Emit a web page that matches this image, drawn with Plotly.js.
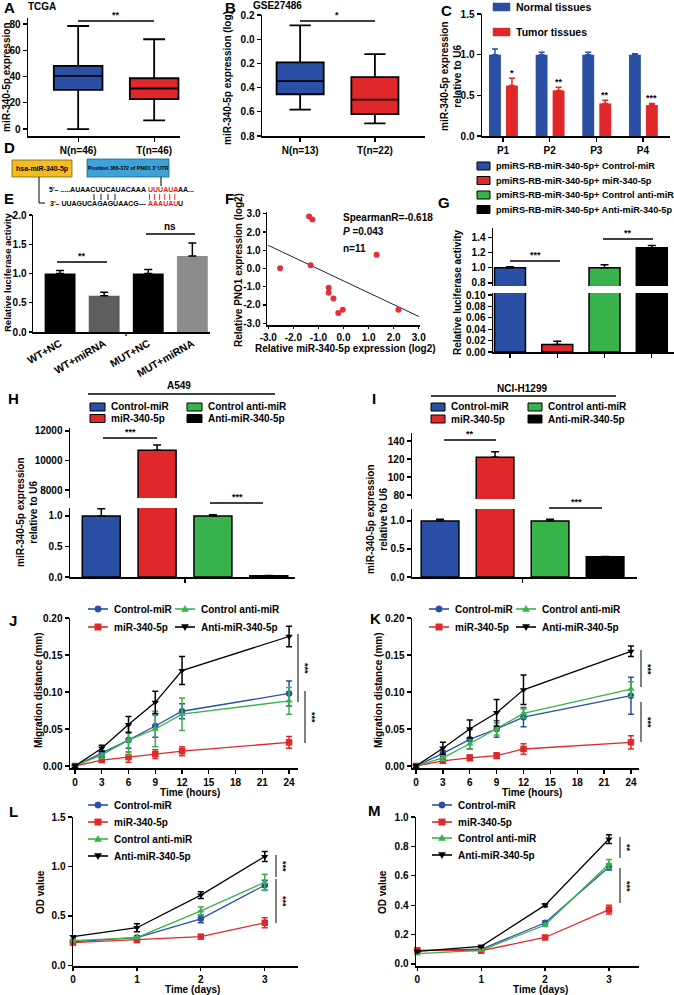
<!DOCTYPE html>
<html><head><meta charset="utf-8">
<script src="https://cdn.plot.ly/plotly-3.0.1.min.js"></script>
<style>html,body{margin:0;padding:0;background:#fff;}#chart{width:674px;height:995px;}</style>
</head><body><div id="chart"></div>
<script>
// ================= DATA =================
const tcgaCats = ['N(n=46)', 'T(n=46)'];
const tcgaLower = [0, 6.6];
const tcgaQ1 = [29.9, 22.8];
const tcgaMedian = [40.5, 30.9];
const tcgaQ3 = [48.1, 38.7];
const tcgaUpper = [78.5, 68.4];

const geoCats = ['N(n=13)', 'T(n=22)'];
const geoLower = [-0.114, 0.123];
const geoQ1 = [0.192, 0.314];
const geoMedian = [0.347, 0.499];
const geoQ3 = [0.455, 0.618];
const geoUpper = [0.582, 0.695];
const geoTickVals = [-0.2, 0, 0.2, 0.4, 0.6, 0.8];
const geoTickText = ['0.2', '0.0', '0.2', '0.4', '0.6', '0.8'];

const pairCats = ['P1', 'P2', 'P3', 'P4'];
const tissueNames = ['Normal tissues', 'Tumor tissues'];
const normalVals = [1.0, 1.0, 1.0, 1.0];
const normalErr = [0.07, 0.03, 0.03, 0.01];
const tumorVals = [0.62, 0.56, 0.40, 0.38];
const tumorErr = [0.09, 0.04, 0.04, 0.02];
const tumorSig = ['*', '**', '**', '***'];

const lucCats = ['WT+NC', 'WT+miRNA', 'MUT+NC', 'MUT+miRNA'];
const lucVals = [1.0, 0.62, 1.0, 1.30];
const lucErr = [0.05, 0.06, 0.07, 0.22];

const corrX = [-1.37, -1.24, -2.53, -1.31, 1.32, -0.59, -0.59, -0.40, -0.21, -0.03, 2.19];
const corrY = [2.85, 2.69, 0.02, 0.18, 0.75, -1.05, -1.33, -1.64, -2.44, -2.27, -2.27];
const fitX = [-3.0, 3.0];
const fitY = [1.27, -2.63];
const corrStats = ['SpearmanR=-0.618', '<i>P</i> =0.043', 'n=11'];
const corrTicks = [-3, -2, -1, 0, 1, 2, 3];
const corrTickText = ['-3.0', '-2.0', '-1.0', '0.0', '1.0', '2.0', '3.0'];

const groupNames = ['Control-miR', 'miR-340-5p', 'Control anti-miR', 'Anti-miR-340-5p'];
const reporterPrefix = 'pmiRS-RB-miR-340-5p+ ';
const reporterVals = [1.0, 0.013, 1.0, 1.26];
const reporterErr = [0.012, 0.006, 0.04, 0.03];

const a549Vals = [1.0, 10700, 1.0, 0.02];
const a549Err = [0.12, 350, 0.02, 0.004];
const h1299Vals = [1.0, 122, 1.0, 0.36];
const h1299Err = [0.03, 6, 0.03, 0.005];

const hours = [0, 3, 6, 9, 12, 24];
const jCtrl = [0, 0.017, 0.035, 0.054, 0.074, 0.098];
const jCtrlErr = [0.001, 0.004, 0.011, 0.015, 0.010, 0.017];
const jMir = [0, 0.008, 0.012, 0.016, 0.020, 0.032];
const jMirErr = [0.001, 0.003, 0.007, 0.006, 0.006, 0.008];
const jAnti = [0, 0.015, 0.035, 0.050, 0.070, 0.088];
const jAntiErr = [0.001, 0.005, 0.020, 0.024, 0.022, 0.018];
const jInh = [0, 0.024, 0.056, 0.086, 0.129, 0.175];
const jInhErr = [0.002, 0.004, 0.011, 0.015, 0.019, 0.014];

const kCtrl = [0, 0.017, 0.036, 0.050, 0.066, 0.095];
const kCtrlErr = [0.001, 0.004, 0.013, 0.011, 0.013, 0.025];
const kMir = [0, 0.007, 0.011, 0.014, 0.023, 0.032];
const kMirErr = [0.001, 0.003, 0.004, 0.004, 0.007, 0.009];
const kAnti = [0, 0.011, 0.030, 0.050, 0.071, 0.104];
const kAntiErr = [0.001, 0.004, 0.007, 0.008, 0.006, 0.010];
const kInh = [0, 0.024, 0.050, 0.072, 0.103, 0.155];
const kInhErr = [0.002, 0.008, 0.012, 0.018, 0.020, 0.007];

const days = [0, 1, 2, 3];
const lCtrl = [0.24, 0.28, 0.47, 0.81];
const lCtrlErr = [0.01, 0.02, 0.04, 0.05];
const lMir = [0.23, 0.26, 0.29, 0.43];
const lMirErr = [0.01, 0.03, 0.02, 0.05];
const lAnti = [0.25, 0.28, 0.55, 0.84];
const lAntiErr = [0.01, 0.01, 0.04, 0.08];
const lInh = [0.29, 0.38, 0.71, 1.10];
const lInhErr = [0.01, 0.04, 0.035, 0.05];

const mCtrl = [0.09, 0.10, 0.28, 0.66];
const mCtrlErr = [0.005, 0.005, 0.01, 0.02];
const mMir = [0.093, 0.09, 0.18, 0.37];
const mMirErr = [0.005, 0.005, 0.01, 0.03];
const mAnti = [0.07, 0.093, 0.265, 0.68];
const mAntiErr = [0.005, 0.005, 0.01, 0.03];
const mInh = [0.086, 0.12, 0.40, 0.85];
const mInhErr = [0.005, 0.005, 0.01, 0.03];

// ================= STYLE / HELPERS =================
const W = 674, H = 995;
const FONT = 'Liberation Sans, Arial, Helvetica, sans-serif';
const BLUE = '#2B4FA5', RED = '#E0282A', GREEN = '#38B24A', BLACK = '#000000';
const GCOL = [BLUE, RED, GREEN, BLACK];
const GSYM = ['circle', 'square', 'triangle-up', 'triangle-down'];
const fx = p => p / W, fy = p => 1 - p / H;
const xd = (a, b) => [a / W, b / W];
const yd = (t, b) => [1 - b / H, 1 - t / H];
const idx = a => a.map((_, i) => i);
const zeros = a => a.map(() => 0);

function axis(extra) {
  return Object.assign({
    showgrid: false, zeroline: false, showline: true, linecolor: '#000', linewidth: 1.5,
    ticks: 'outside', ticklen: 4, tickwidth: 1.3, tickcolor: '#000',
    tickfont: {family: FONT, size: 10, color: '#000', weight: 'bold'},
    fixedrange: true, automargin: false
  }, extra);
}

const shapes = [], annotations = [];
function txt(x, y, text, size, xanchor, extra) {
  annotations.push(Object.assign({
    xref: 'paper', yref: 'paper', x: fx(x), y: fy(y), text: text, showarrow: false,
    xanchor: xanchor || 'left', yanchor: 'middle', borderpad: 0,
    font: {family: FONT, size: size || 10, color: '#000', weight: 'bold'}
  }, extra || {}));
}
function seg(x0, y0, x1, y1, color, w) {
  shapes.push({type: 'line', xref: 'paper', yref: 'paper', x0: fx(x0), y0: fy(y0), x1: fx(x1), y1: fy(y1),
    line: {color: color || '#000', width: w || 1.3}});
}
function box(x0, y0, x1, y1, fill, lc, lw) {
  shapes.push({type: 'rect', xref: 'paper', yref: 'paper', x0: fx(x0), y0: fy(y0), x1: fx(x1), y1: fy(y1),
    fillcolor: fill, line: {color: lc || fill, width: lw === undefined ? 1 : lw}});
}
function sym(cx, cy, s, color, r) {
  r = r || 3.2;
  if (s === 'circle') {
    shapes.push({type: 'circle', xref: 'paper', yref: 'paper', x0: fx(cx - r), x1: fx(cx + r), y0: fy(cy - r), y1: fy(cy + r), fillcolor: color, line: {color: color, width: 0.5}});
  } else if (s === 'square') {
    box(cx - r, cy - r, cx + r, cy + r, color, color, 0.5);
  } else {
    const up = s === 'triangle-up';
    const p = up ? [[cx, cy - r * 1.1], [cx + r * 1.1, cy + r * 0.8], [cx - r * 1.1, cy + r * 0.8]]
                 : [[cx, cy + r * 1.1], [cx + r * 1.1, cy - r * 0.8], [cx - r * 1.1, cy - r * 0.8]];
    const path = 'M' + p.map(q => fx(q[0]) + ',' + fy(q[1])).join('L') + 'Z';
    shapes.push({type: 'path', xref: 'paper', yref: 'paper', path: path, fillcolor: color, line: {color: color, width: 0.5}});
  }
}
function lineLegend(x, y, i, label) {
  seg(x, y, x + 20, y, GCOL[i], 1.6);
  sym(x + 10, y, GSYM[i], GCOL[i], 3.2);
  txt(x + 25, y, label, 10);
}
function barLegend(x, y, w, color, label, outline, size) {
  box(x, y - 4, x + w, y + 4, color, outline ? '#000' : color, outline ? 1 : 0.5);
  txt(x + w + 5, y, label, size || 10);
}
function star(x, y, s, vertical) {
  txt(x, y, s, 9, 'center', vertical ? {textangle: 90} : {});
}

// ================= TRACES =================
const traces = [];

// A: TCGA boxes
[BLUE, RED].forEach((c, i) => traces.push({
  type: 'box', x: [i], q1: [tcgaQ1[i]], median: [tcgaMedian[i]], q3: [tcgaQ3[i]],
  lowerfence: [tcgaLower[i]], upperfence: [tcgaUpper[i]], width: 0.64, whiskerwidth: 0.45,
  fillcolor: c, line: {color: '#000', width: 1.8}, boxpoints: false, xaxis: 'x', yaxis: 'y', hoverinfo: 'skip'
}));
// B: GEO boxes
[BLUE, RED].forEach((c, i) => traces.push({
  type: 'box', x: [i], q1: [geoQ1[i]], median: [geoMedian[i]], q3: [geoQ3[i]],
  lowerfence: [geoLower[i]], upperfence: [geoUpper[i]], width: 0.63, whiskerwidth: 0.45,
  fillcolor: c, line: {color: '#000', width: 1.8}, boxpoints: false, xaxis: 'x2', yaxis: 'y2', hoverinfo: 'skip'
}));
// C: paired tissues
traces.push({type: 'bar', x: idx(pairCats), y: normalVals, offset: -0.30, width: 0.255,
  marker: {color: BLUE, line: {width: 0}},
  error_y: {type: 'data', array: normalErr, arrayminus: zeros(normalErr), symmetric: false, color: BLUE, thickness: 1.5, width: 3},
  xaxis: 'x3', yaxis: 'y3', hoverinfo: 'skip'});
traces.push({type: 'bar', x: idx(pairCats), y: tumorVals, offset: 0.064, width: 0.255,
  marker: {color: RED, line: {width: 0}},
  error_y: {type: 'data', array: tumorErr, arrayminus: zeros(tumorErr), symmetric: false, color: RED, thickness: 1.5, width: 3},
  xaxis: 'x3', yaxis: 'y3', hoverinfo: 'skip'});
// E: luciferase WT/MUT
traces.push({type: 'bar', x: idx(lucCats), y: lucVals, width: 0.7,
  marker: {color: ['#000000', '#5e5e5e', '#000000', '#8c8c8c'], line: {width: 0}},
  error_y: {type: 'data', array: lucErr, arrayminus: zeros(lucErr), symmetric: false, color: '#000', thickness: 1.5, width: 4},
  xaxis: 'x4', yaxis: 'y4', hoverinfo: 'skip'});
// F: correlation
traces.push({type: 'scatter', mode: 'lines', x: fitX, y: fitY, line: {color: '#222', width: 1},
  xaxis: 'x5', yaxis: 'y5', hoverinfo: 'skip'});
traces.push({type: 'scatter', mode: 'markers', x: corrX, y: corrY, marker: {color: '#E0303A', size: 6},
  xaxis: 'x5', yaxis: 'y5', hoverinfo: 'skip', cliponaxis: false});
// broken-axis bar helper
function brokenBars(vals, errs, xa, yLow, yHigh, width) {
  [yLow, yHigh].forEach(ya => traces.push({type: 'bar', x: idx(vals), y: vals, width: width,
    marker: {color: GCOL, line: {color: '#000', width: 1.5}},
    error_y: {type: 'data', array: errs, arrayminus: zeros(errs), symmetric: false, color: '#000', thickness: 1.5, width: 4},
    xaxis: xa, yaxis: ya, hoverinfo: 'skip'}));
}
brokenBars(reporterVals, reporterErr, 'x6', 'y6', 'y7', 0.655);   // G
brokenBars(a549Vals, a549Err, 'x7', 'y8', 'y9', 0.68);            // H
brokenBars(h1299Vals, h1299Err, 'x8', 'y10', 'y11', 0.685);       // I
// line panels
function lineSet(xv, series, errs, xa, ya) {
  series.forEach((s, i) => traces.push({type: 'scatter', mode: 'lines+markers', x: xv, y: s,
    line: {color: GCOL[i], width: 1.3}, marker: {symbol: GSYM[i], size: 6.5, color: GCOL[i]},
    error_y: {type: 'data', array: errs[i], color: GCOL[i], thickness: 1.5, width: 3},
    xaxis: xa, yaxis: ya, cliponaxis: false, hoverinfo: 'skip'}));
}
lineSet(hours, [jCtrl, jMir, jAnti, jInh], [jCtrlErr, jMirErr, jAntiErr, jInhErr], 'x9', 'y12');
lineSet(hours, [kCtrl, kMir, kAnti, kInh], [kCtrlErr, kMirErr, kAntiErr, kInhErr], 'x10', 'y13');
lineSet(days, [lCtrl, lMir, lAnti, lInh], [lCtrlErr, lMirErr, lAntiErr, lInhErr], 'x11', 'y14');
lineSet(days, [mCtrl, mMir, mAnti, mInh], [mCtrlErr, mMirErr, mAntiErr, mInhErr], 'x12', 'y15');

// C significance stars from data
tumorSig.forEach((s, i) => annotations.push({xref: 'x3', yref: 'y3', x: i + 0.19, y: tumorVals[i] + tumorErr[i],
  text: s, showarrow: false, yanchor: 'bottom', xanchor: 'center', yshift: -1, borderpad: 0,
  font: {family: FONT, size: 9, color: '#000', weight: 'bold'}}));

// ================= ANNOTATIONS / DECOR =================
[['A', 3, 8], ['B', 224, 8], ['C', 440, 10], ['D', 3, 148], ['E', 3, 198], ['F', 224, 198], ['G', 437, 202],
 ['H', 7, 398], ['I', 371, 398], ['J', 8, 620], ['K', 369, 618], ['L', 8, 811], ['M', 367, 810]]
  .forEach(l => txt(l[1], l[2], l[0], 15));
txt(27, 7, 'TCGA', 10);
txt(252, 5, 'GSE27486', 10);
seg(78, 21, 154, 21); star(116, 15, '**');
seg(300, 21, 375, 21); star(337, 15, '*');
const vt = {textangle: -90};
txt(6, 77, 'miR-340-5p expression', 10, 'center', vt);
txt(228, 78, 'miR-340-5p expression (log)', 10, 'center', vt);
txt(451, 76, 'miR-340-5p expression<br>relative to U6', 10, 'center', vt);
txt(7, 272, 'Relative luciferase activity', 9.5, 'center', vt);
txt(238, 270, 'Relative PNO1 expression (log2)', 10, 'center', vt);
txt(345, 348, 'Relative miR-340-5p expression (log2)', 10, 'center');
txt(457, 292, 'Relative luciferase activity', 10, 'center', vt);
txt(27, 512, 'miR-340-5p expression<br>relative to U6', 10, 'center', vt);
txt(377, 519, 'miR-340-5p expression<br>relative to U6', 10, 'center', vt);
txt(38, 690, 'Migration distance (mm)', 10, 'center', vt);
txt(378, 690, 'Migration distance (mm)', 10, 'center', vt);
txt(190, 792, 'Time (hours)', 10, 'center');
txt(532, 792, 'Time (hours)', 10, 'center');
txt(40, 892, 'OD value', 10, 'center', vt);
txt(382, 892, 'OD value', 10, 'center', vt);
txt(192, 989, 'Time (days)', 10, 'center');
txt(540, 989, 'Time (days)', 10, 'center');

// C legend
barLegend(493, 7, 17, BLUE, tissueNames[0], false, 10.5);
barLegend(493, 32, 17, RED, tissueNames[1], false, 10.5);

// D diagram
box(12, 160, 72, 177, '#F2BC22', '#7a6418', 0.8);
txt(42, 168.5, 'hsa-miR-340-5p', 7, 'center');
box(87, 159, 169, 177, '#3EA2DA', '#1d5f87', 0.8);
txt(128, 168, "Position 366-372 of PNO1 3' UTR", 5.2, 'center');
seg(39, 177, 39, 203, '#000', 1);
seg(39, 203, 45, 203, '#000', 1);
seg(161, 177, 161, 186, '#000', 1);
const REDTXT = '#E0201B';
txt(147, 190, "5'– .....AUAACUUCAUACAAA", 7, 'right');
txt(146.5, 190, 'UUUAUA', 7, 'left', {font: {family: FONT, size: 7, color: REDTXT, weight: 'bold'}});
txt(176.5, 190, 'AA...', 7, 'left');
txt(147, 203.5, "3'– UUAGUCAGAGUAACG---", 7, 'right');
txt(146.5, 203.5, 'AAAUAU', 7, 'left', {font: {family: FONT, size: 7, color: REDTXT, weight: 'bold'}});
txt(176.5, 203.5, 'U', 7, 'left');
[94, 101, 108, 115].forEach(x => seg(x, 194, x, 200, '#000', 0.9));
[149.5, 154.6, 159.6, 164.7, 169.7, 174.8].forEach(x => seg(x, 194, x, 200, REDTXT, 0.9));

// E significance + center tick
seg(57, 262, 107, 262); star(82, 256, '**');
seg(146, 234, 195, 234); txt(170, 226, 'ns', 10, 'center');
seg(126, 332, 126, 336, '#000', 1.3);

// F stats
txt(342, 217, corrStats[0], 10);
txt(342, 232, corrStats[1], 10);
txt(342, 248, corrStats[2], 10);

// G legend + significance
[166, 180.5, 195, 209.5].forEach((y, i) => barLegend(477, y, 13, GCOL[i], reporterPrefix + groupNames[i], true, 9.2));
seg(510, 261, 560, 261); star(535, 255, '***');
seg(603, 239, 653, 239); star(628, 233, '**');

// H
txt(179, 385, 'A549', 10, 'center');
seg(88, 394, 275, 394, '#000', 1.3);
barLegend(90, 407, 15, BLUE, groupNames[0], true);
barLegend(90, 418.5, 15, RED, groupNames[1], true);
barLegend(187, 407, 15, GREEN, groupNames[2], true);
barLegend(187, 418.5, 15, BLACK, groupNames[3], true);
seg(103, 438, 157, 438); star(130, 432, '***');
seg(210, 503, 263, 503); star(237, 497, '***');

// I
txt(522, 388, 'NCI-H1299', 10, 'center');
seg(431, 396, 616, 396, '#000', 1.3);
barLegend(431, 407, 14, BLUE, groupNames[0], true);
barLegend(431, 419, 14, RED, groupNames[1], true);
barLegend(528, 407, 14, GREEN, groupNames[2], true);
barLegend(528, 419, 14, BLACK, groupNames[3], true);
seg(444, 440, 496, 440); star(470, 434, '**');
seg(549, 508, 602, 508); star(576, 502, '***');

// J/K legends + sig
[[88, 609, 0], [88, 627, 1], [175, 609, 2], [175, 627, 3]].forEach(a => lineLegend(a[0], a[1], a[2], groupNames[a[2]]));
[[429, 609, 0], [429, 627, 1], [516, 609, 2], [516, 627, 3]].forEach(a => lineLegend(a[0], a[1], a[2], groupNames[a[2]]));
seg(298, 634, 298, 702, '#000', 1); star(305, 668, '***', true);
seg(305, 691, 305, 743, '#000', 1); star(312, 717, '***', true);
seg(641, 650, 641, 687, '#000', 1); star(648, 669, '***', true);
seg(641, 702, 641, 742, '#000', 1); star(648, 722, '***', true);

// L/M legends + sig
[805, 822, 839, 856].forEach((y, i) => lineLegend(88, y, i, groupNames[i]));
[805, 822, 838, 855].forEach((y, i) => lineLegend(432, y, i, groupNames[i]));
seg(276, 855, 276, 877, '#000', 1); star(283, 866, '***', true);
seg(276, 879, 276, 923, '#000', 1); star(283, 901, '***', true);
seg(620, 837, 620, 858, '#000', 1); star(627, 848, '**', true);
seg(620, 868, 620, 903, '#000', 1); star(627, 886, '***', true);

// ================= LAYOUT =================
const layout = {
  width: W, height: H, margin: {l: 0, r: 0, t: 0, b: 0, pad: 0},
  paper_bgcolor: '#fff', plot_bgcolor: 'rgba(0,0,0,0)', showlegend: false, barmode: 'overlay',
  font: {family: FONT, color: '#000'},
  xaxis: axis({domain: xd(28, 180), range: [-0.66, 1.34], anchor: 'y', tickvals: [0, 1], ticktext: tcgaCats}),
  yaxis: axis({domain: yd(18, 136), range: [-5.3, 84.6], anchor: 'x', tickvals: [0, 20, 40, 60, 80]}),
  xaxis2: axis({domain: xd(262, 425), range: [-0.51, 1.67], anchor: 'y2', tickvals: [0, 1], ticktext: geoCats}),
  yaxis2: axis({domain: yd(15, 136), range: [0.8, -0.2], anchor: 'x2', tickvals: geoTickVals, ticktext: geoTickText}),
  xaxis3: axis({domain: xd(482, 670), range: [-0.45, 3.58], anchor: 'y3', tickvals: idx(pairCats), ticktext: pairCats}),
  yaxis3: axis({domain: yd(14, 136), range: [0, 1.5], anchor: 'x3', tickvals: [0, 0.5, 1, 1.5], tickformat: '.1f'}),
  xaxis4: axis({domain: xd(33, 210), range: [-0.614, 3.4], anchor: 'y4', tickvals: idx(lucCats), ticktext: lucCats, tickangle: -30, ticks: '', tickfont: {family: FONT, size: 10.5, color: '#000', weight: 'bold'}}),
  yaxis4: axis({domain: yd(215, 332), range: [0, 2.0], anchor: 'x4', tickvals: [0, 0.5, 1, 1.5, 2], tickformat: '.1f', ticklen: 3}),
  xaxis5: axis({domain: xd(267, 420), range: [-3.05, 3.05], anchor: 'y5', tickvals: corrTicks, ticktext: corrTickText, ticklen: 2}),
  yaxis5: axis({domain: yd(212, 325), range: [-3.1, 3.1], anchor: 'x5', tickvals: corrTicks, ticktext: corrTickText, ticklen: 3}),
  xaxis6: axis({domain: xd(493, 674), range: [-0.36, 3.47], anchor: 'y6', tickvals: [0, 1, 2, 3], showticklabels: false}),
  yaxis6: axis({domain: yd(293, 352), range: [0, 0.1035], anchor: 'x6', tickvals: [0, 0.02, 0.04, 0.06, 0.08, 0.1], tickformat: '.2f'}),
  yaxis7: axis({domain: yd(228, 286), range: [0.76, 1.52], anchor: 'x6', tickvals: [0.8, 1.0, 1.2, 1.4], tickformat: '.1f'}),
  xaxis7: axis({domain: xd(70, 295), range: [-0.56, 3.47], anchor: 'y8', tickvals: [1.5], showticklabels: false}),
  yaxis8: axis({domain: yd(508, 577), range: [0, 1.131], anchor: 'x7', tickvals: [0, 0.5, 1.0], tickformat: '.1f'}),
  yaxis9: axis({domain: yd(428, 498), range: [7458, 12203], anchor: 'x7', tickvals: [8000, 10000, 12000], tickformat: 'd'}),
  xaxis8: axis({domain: xd(412, 637), range: [-0.51, 3.58], anchor: 'y10', tickvals: [1.5], showticklabels: false}),
  yaxis10: axis({domain: yd(509, 577), range: [0, 1.214], anchor: 'x8', tickvals: [0, 0.5, 1.0], tickformat: '.1f'}),
  yaxis11: axis({domain: yd(433, 499), range: [75.6, 148.9], anchor: 'x8', tickvals: [80, 100, 120, 140]}),
  xaxis9: axis({domain: xd(70, 298), range: [-0.56, 25], anchor: 'y12', tickvals: [0, 3, 6, 9, 12, 15, 18, 21, 24]}),
  yaxis12: axis({domain: yd(618, 768), range: [-0.0027, 0.2], anchor: 'x9', tickvals: [0, 0.05, 0.1, 0.15, 0.2], tickformat: '.2f'}),
  xaxis10: axis({domain: xd(412, 639), range: [-0.45, 24.9], anchor: 'y13', tickvals: [0, 3, 6, 9, 12, 15, 18, 21, 24]}),
  yaxis13: axis({domain: yd(618, 768), range: [-0.0027, 0.2], anchor: 'x10', tickvals: [0, 0.05, 0.1, 0.15, 0.2], tickformat: '.2f'}),
  xaxis11: axis({domain: xd(73, 298), range: [0, 3.52], anchor: 'y14', tickvals: [0, 1, 2, 3], ticklen: 3}),
  yaxis14: axis({domain: yd(817, 966), range: [-0.007, 1.5], anchor: 'x11', tickvals: [0, 0.5, 1.0, 1.5], tickformat: '.1f'}),
  xaxis12: axis({domain: xd(416, 639), range: [-0.02, 3.47], anchor: 'y15', tickvals: [0, 1, 2, 3], ticklen: 3}),
  yaxis15: axis({domain: yd(817, 966), range: [-0.014, 1.0], anchor: 'x12', tickvals: [0, 0.2, 0.4, 0.6, 0.8, 1.0], tickformat: '.1f'}),
  shapes: shapes,
  annotations: annotations
};

Plotly.newPlot('chart', traces, layout, {staticPlot: true, displayModeBar: false});
</script>
</body></html>
